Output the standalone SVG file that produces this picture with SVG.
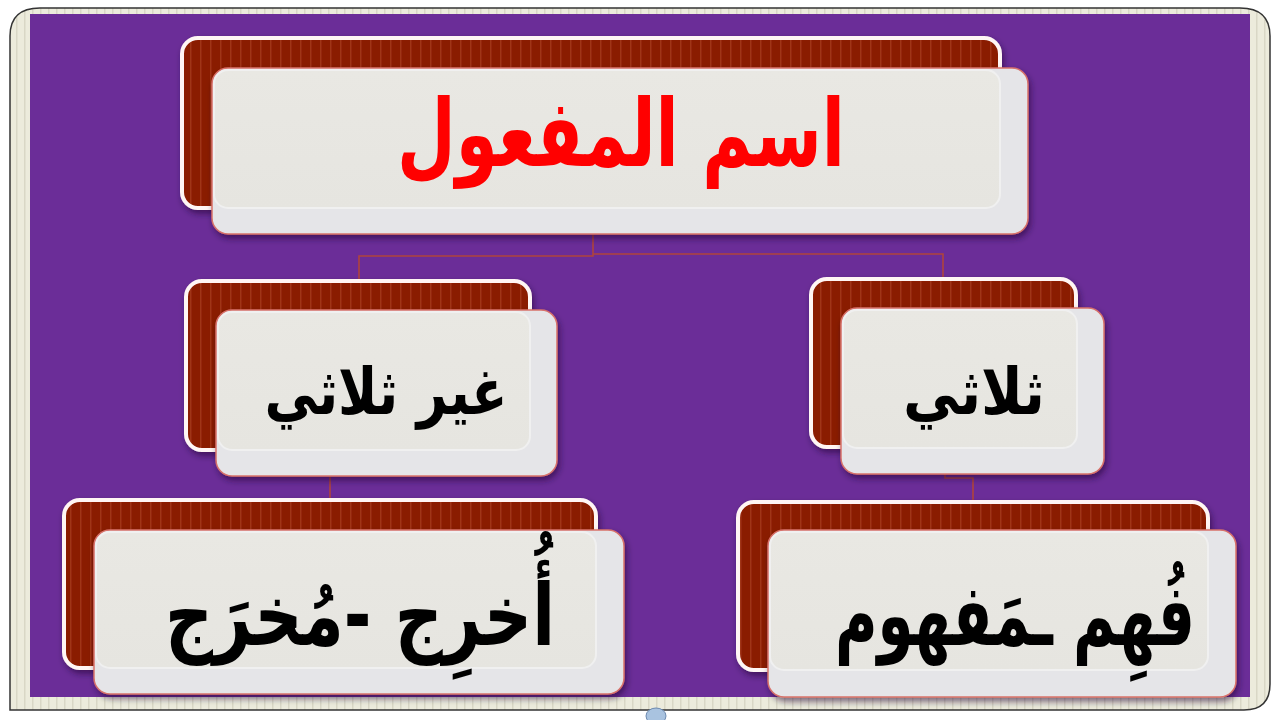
<svg xmlns="http://www.w3.org/2000/svg" width="1280" height="720" viewBox="0 0 1280 720">
<defs>
  <pattern id="frameStripe" width="8" height="10" patternUnits="userSpaceOnUse">
    <rect width="8" height="10" fill="#ecebdc"/>
    <rect x="0" width="1.5" height="10" fill="#d9d7c6"/>
  </pattern>
  <pattern id="redStripe" width="10" height="10" patternUnits="userSpaceOnUse">
    <rect width="10" height="10" fill="#8a1a02"/>
    <rect x="0" width="1.5" height="10" fill="#a03416"/>
  </pattern>
  <linearGradient id="frontGrad" x1="0" y1="0" x2="0" y2="1">
    <stop offset="0" stop-color="#e9e8e3"/>
    <stop offset="1" stop-color="#e6e5e0"/>
  </linearGradient>
  <filter id="shadow" x="-10%" y="-10%" width="125%" height="135%">
    <feDropShadow dx="2" dy="4" stdDeviation="3" flood-color="#1a0030" flood-opacity="0.55"/>
  </filter>
</defs>
<style>
  .back { fill: url(#redStripe); stroke: #fff6f4; stroke-width: 4; filter: url(#shadow); }
  .front { fill: #e5e5e8; stroke: #d8716a; stroke-width: 1.5; filter: url(#shadow); }
  .inner { fill: url(#frontGrad); stroke: #f0f0f0; stroke-width: 2; }
  .conn { fill: none; stroke: #b0443c; stroke-width: 1.6; }
  .lbl { font-family: "DejaVu Sans", "Noto Sans", sans-serif; font-weight: bold; direction: rtl; text-anchor: middle; }
</style>
<rect width="1280" height="720" fill="#ffffff"/>
<g id="frame">
  <path d="M10,710 L10,36 Q10,8 40,8 L1240,8 Q1270,8 1270,36 L1270,684 Q1270,710 1244,710 Z" fill="url(#frameStripe)" stroke="#333" stroke-width="1.5"/>
  <rect x="30" y="14" width="1220" height="683" fill="#6b2d98"/>
  <ellipse cx="656" cy="716" rx="10" ry="8" fill="#a9c3e0" stroke="#6d8ab0" stroke-width="1"/>
</g>
<g id="connectors">
  <path class="conn" d="M593,235 L593,256 L359,256 L359,281"/>
  <path class="conn" d="M593,254 L943,254 L943,279"/>
  <path class="conn" d="M330,477 L330,500"/>
  <path class="conn" d="M945,474 L945,478 L973,478 L973,502"/>
</g>
<g id="node-root">
  <rect class="back" x="182" y="38" width="818" height="170" rx="16"/>
  <rect class="front" x="212" y="68" width="816" height="166" rx="16"/>
  <rect class="inner" x="214" y="70" width="786" height="138" rx="14"/>
  <text class="lbl" x="621" y="166" font-size="94" fill="#ff0000" textLength="448" lengthAdjust="spacingAndGlyphs">اسم المفعول</text>
</g>
<g id="node-ghair">
  <rect class="back" x="186" y="281" width="344" height="169" rx="16"/>
  <rect class="front" x="216" y="310" width="341" height="166" rx="16"/>
  <rect class="inner" x="218" y="312" width="312" height="138" rx="14"/>
  <text class="lbl" x="386" y="414" font-size="64" fill="#000" textLength="243" lengthAdjust="spacingAndGlyphs">غير ثلاثي</text>
</g>
<g id="node-thulathi">
  <rect class="back" x="811" y="279" width="265" height="168" rx="16"/>
  <rect class="front" x="841" y="308" width="263" height="166" rx="16"/>
  <rect class="inner" x="843" y="310" width="234" height="138" rx="14"/>
  <text class="lbl" x="974" y="414" font-size="64" fill="#000" textLength="142" lengthAdjust="spacingAndGlyphs">ثلاثي</text>
</g>
<g id="node-akhraj">
  <rect class="back" x="64" y="500" width="532" height="168" rx="16"/>
  <rect class="front" x="94" y="530" width="530" height="164" rx="16"/>
  <rect class="inner" x="96" y="532" width="500" height="136" rx="14"/>
  <text class="lbl" x="360" y="645" font-size="86" fill="#000" textLength="390" lengthAdjust="spacingAndGlyphs">أُخرِج -مُخرَج</text>
</g>
<g id="node-fahim">
  <rect class="back" x="738" y="502" width="470" height="168" rx="16"/>
  <rect class="front" x="768" y="530" width="468" height="167" rx="16"/>
  <rect class="inner" x="770" y="532" width="438" height="138" rx="14"/>
  <text class="lbl" x="1015" y="645" font-size="86" fill="#000" textLength="360" lengthAdjust="spacingAndGlyphs">فُهِم ـمَفهوم</text>
</g>
</svg>
